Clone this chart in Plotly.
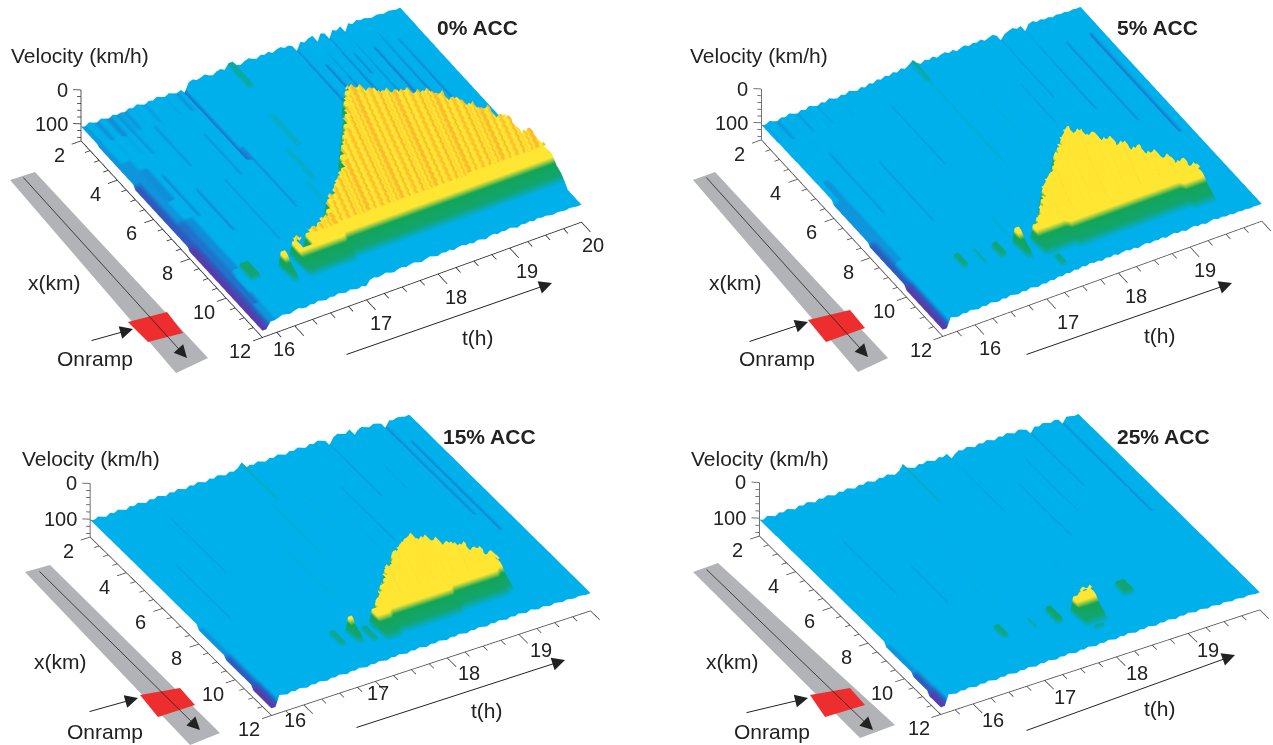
import math
import numpy as np
import plotly.graph_objects as go

W, H = 1273, 745
# Axis ticks
T_MAJOR = [16, 17, 18, 19, 20]
T_MINOR = [15.75, 16.25, 16.5, 16.75, 17.25, 17.5, 17.75, 18.25, 18.5, 18.75, 19.25, 19.5, 19.75]
X_MAJOR = [2, 4, 6, 8, 10, 12]
X_MINOR = [2.5, 3, 3.5, 4.5, 5, 5.5, 6.5, 7, 7.5, 8.5, 9, 9.5, 10.5, 11, 11.5]
V_MAJOR = [0, 100]
V_MINOR = [20, 40, 60, 80, 120, 140]
T_START, T_END = 15.55, 20.0
V_BASE = 150
PANEL_TITLES = ["0% ACC", "5% ACC", "15% ACC", "25% ACC"]
T_LABELS = [[16, 17, 18, 19, 20], [16, 17, 18, 19], [16, 17, 18, 19], [16, 17, 18, 19]]

# Speed deviation per time column, read from the jagged far edge of each surface
STREAK_0 = [8,12,4,9,13,6,10,14,7,3,9,12,5,9,2,7,11,4,8,1,6,10,3,8,12,6,14,
            -8,-12,-6,-9,-14,-7,-3,-10,-13,-6,-11,-14,-8,-4,-11,-15,-9,-5,-12,-8,
            -13,-5,-11,-14,-7,-10,-4,-12,-8,-2,-10,-13,-6,-11,-8,-14,-9,-3,-11,-7,
            -12,-5,-13,-8,-10,-6,-3,-7,-5,-2,-6,-4,-1,-3]
STREAK_1 = [6,10,3,8,12,5,9,2,7,11,4,9,1,6,10,3,8,0,5,9,2,7,-1,4,8,1,6,
            -2,3,-5,0,-7,-2,-9,-4,-12,-6,-14,-8,-11,-4,-12,-7,-13,-5,-10,-13,
            -6,-11,-3,-9,-12,-5,-10,-7,-12,-4,-9,-13,-6,-10,-3,-8,-12,-5,-9,-2,
            -7,-11,-4,-8,-3,-6,-1,-5,-2,-4,0,-3,-1,-2]
STREAK_2 = [2,6,0,4,8,1,5,-1,3,7,0,4,-2,2,6,-1,3,-3,1,5,-2,2,-4,0,4,-3,1,
            -5,-1,3,-4,0,-6,-2,2,-5,-1,-7,-3,1,-6,-2,-8,-4,0,-7,-3,
            -9,-5,-1,-8,-4,-10,-6,-2,-9,-5,-11,-7,-3,-10,-6,-12,-8,-4,-13,-7,
            -3,-9,-5,-1,-7,-4,0,-5,-2,1,-3,-1,2,0]
STREAK_3 = [4,8,1,5,9,2,6,0,4,8,1,5,-1,3,7,0,4,-2,2,6,-1,3,-3,1,5,-2,2,
            -4,0,4,-3,1,-5,-1,3,-4,0,-6,-2,2,-5,-1,-7,-3,1,-6,-2,
            -8,-4,0,-7,-3,-9,-5,-1,-8,-4,-10,-6,-2,-9,-5,-11,-7,-3,-10,-6,
            -2,-8,-4,0,-6,-3,1,-4,-1,2,-2,0,3,1]
# How strongly the streaks show at each km (2 .. 12)
STREAK_FADE = [1.0, 0.7, 0.5, 0.4, 0.35, 0.35, 0.35, 0.35, 0.4, 0.5, 0.7, 0.7]

# Congested region read off per time step: jam edge towards low x, and its front near the onramp (99 = no jam)
JAM_TOP_0 = [99,99,99,99,99,99,10.3,99,10.1,10.5,10.0,10.0,9.7,9.7,9.3,9.0,8.8,8.5,8.2,7.9,7.5,7.1,6.7,6.3,5.9,5.5,5.1,5.2,5.5,5.7,5.9,6.0,6.2,6.3,6.6,7.0,7.4,7.8,8.3,9.2,10.0]
JAM_FRONT_0 = [0,0,0,0,0,0,10.6,0,10.6,10.6,10.55,10.55,10.55,10.55,10.5,10.5,10.5,10.5,10.5,10.5,10.5,10.5,10.5,10.45,10.45,10.45,10.45,10.45,10.45,10.45,10.4,10.4,10.4,10.4,10.4,10.4,10.4,10.4,10.4,10.4,10.4]
JAM_TOP_1 = [99,99,99,99,99,99,99,99,99,99,99,99,99,10.2,99,10.3,10.1,9.8,9.5,9.05,8.8,8.6,8.3,8.0,7.7,7.4,7.15,7.4,7.7,8.1,8.5,8.85,9.2,9.6,10.0,10.3,99,99,99,99,99]
JAM_FRONT_1 = [0,0,0,0,0,0,0,0,0,0,0,0,0,10.5,0,10.6,10.6,10.6,10.6,10.65,10.65,10.65,10.65,10.7,10.7,10.7,10.7,10.7,10.75,10.75,10.75,10.75,10.75,10.8,10.8,10.8,0,0,0,0,0]
JAM_TOP_2 = [99,99,99,99,99,99,99,99,99,99,99,99,99,10.4,99,99,10.5,10.2,9.9,9.6,9.3,9.0,8.8,8.5,8.3,8.1,7.95,8.2,8.5,8.8,9.05,9.4,9.8,99,99,99,99,99,99,99,99]
JAM_FRONT_2 = [0,0,0,0,0,0,0,0,0,0,0,0,0,10.6,0,0,10.8,10.8,10.75,10.75,10.7,10.7,10.7,10.65,10.65,10.65,10.6,10.6,10.6,10.55,10.55,10.55,10.5,0,0,0,0,0,0,0,0]
JAM_TOP_3 = [99,99,99,99,99,99,99,99,99,99,99,99,99,99,99,99,99,99,99,99,10.5,10.3,10.3,99,99,99,99,99,99,99,99,99,99,99,99,99,99,99,99,99,99]
JAM_FRONT_3 = [0,0,0,0,0,0,0,0,0,0,0,0,0,0,0,0,0,0,0,0,10.7,10.7,10.7,0,0,0,0,0,0,0,0,0,0,0,0,0,0,0,0,0,0]
# Streaks inside the jam, km/h (fine columns)
JAM_WAVE = [28,28,34,35,27,35,36,29,29,36,34,26,35,31,36,28,35]
JAM_SHIFT = [0, 6, 6, 8]
JAM_FLOOR = 44
# Speeds stepping down the front shoulder from the jam to free flow (starts SHOULDER_BACK km before the front)
SHOULDER = [42, 44, 52, 62, 66, 70, 78, 88]
SHOULDER_BACK = 0.25

# Local features: first col, last col, km from, km to, speed
PATCH_0 = [(0,1,3,12,112),(0,1,5,12,122),(0,1,8,12,130),(2,3,4,12,112),(2,3,7,11,117),(4,5,4.5,6,113),(4,5,7,9.5,113),(1,1,2,3,112),
           (9,9,2,4,112),(14,14,3,5,112),(18,18,6,9,112),(11,11,6,8,114),(7,7,5,7,114),(22,22,4,6,112),(26,26,2,5.5,118),(27,27,5,8,113),
           (54,54,2,5,118),(59,59,2,5.2,122),(62,62,2,5.5,122),(66,66,2,6,118),(69,69,3,7,122),(72,72,2.5,7.5,118),(75,75,3,8,116),(57,57,3,4.5,120),(64,64,3,4,124),
           (37,38,2,3.2,78),(36,37,4.5,6,82),(33,34,6,7.5,83),(31,32,7.5,8.5,84),(29,30,9,10,82),(25,25,8,9,84),(4,6,9.8,10.6,72)]
PATCH_1 = [(0,1,6,12,112),(0,1,8,12,120),(0,1,10,12,130),(2,3,5,9,112),(8,8,4,7,112),(16,16,5,8,112),(28,28,3,6,112),(46,46,4,7,84),(50,50,7,9,112),
           (12,13,9.9,10.5,74),(17,17,10,10.7,76),(21,22,10.1,10.7,72),(31,32,11.1,11.8,76),(26,26,9,10,82),
           (38,38,2,3,76),(38,38,3,5,83),(38,38,5,7,82),(33,33,7,9,84),(60,60,2,5,112),(66,66,2,6,114),(72,72,3,7,114),(78,78,3,8,118),(56,56,4,6,112)]
PATCH_2 = [(0,1,8,12,112),(0,1,9.5,12,120),(0,1,11,12,130),(8,8,5,8,111),(16,16,3,6,111),(44,44,3,6,84),(48,48,6,8,84),(54,54,4,7,112),(60,60,2,5,112),
           (22,23,10.3,11,76),(26,26,10.4,11,74),(29,30,10.6,11.3,76),(34,35,11,11.6,74),(18,18,9,10,84),
           (38,38,2,4,80),(36,36,4,7,83),(30,30,6,9,83),(25,25,7,9,84),(66,66,2,5,112),(74,74,2,7,116),(76,76,3,8,118)]
PATCH_3 = [(0,1,9,12,112),(0,1,10.5,12,120),(0,1,11.3,12,130),(12,12,4,7,111),(20,20,6,8,111),(48,48,2,5,112),(56,56,4,7,112),(62,62,3,6,111),
           (22,23,10.1,10.7,74),(30,30,10.2,10.7,76),(35,36,10.1,10.8,70),(41,43,10.2,11.5,74),(53,55,10,10.6,72),(46,46,8,10,84),(26,26,8,9.5,84),
           (36,36,2,4,80),(30,30,4,7,84),(28,28,6,9,84),(68,68,2,5,112),(76,76,2,7,114)]

# Colour stops against velocity
CSTOP_V = [0, 27, 34, 48, 58, 72, 86, 108, 120, 136, 140]
CSTOP_C = ["#f7a82a", "#f9b62c", "#ffe633", "#ffe633", "#12a558", "#12a56e", "#00b0ea", "#00b0ea", "#2a5fc0", "#6e2aa0", "#6e2aa0"]
V_MAX = 140

STREAKS = [STREAK_0, STREAK_1, STREAK_2, STREAK_3]
JAM_TOPS = [JAM_TOP_0, JAM_TOP_1, JAM_TOP_2, JAM_TOP_3]
JAM_FRONTS = [JAM_FRONT_0, JAM_FRONT_1, JAM_FRONT_2, JAM_FRONT_3]
PATCHES = [PATCH_0, PATCH_1, PATCH_2, PATCH_3]

# Layout, in page pixels
DOMAINS = [(0, 636, 0, 372), (637, 1273, 0, 372), (0, 636, 373, 745), (637, 1273, 373, 745)]
PAN = [(21, -48), (107, -50), (39, -13), (103, -15)]
ELEV_SIN = [0.626, 0.626, 0.568, 0.568]
# Hand-placed time labels in the original: pixel nudges per tick, per panel
T_LABEL_DX = [[0, 0, 3, 2, -3], [0, 6, 3, 0], [-24, -12, 7, 7], [5, 5, 6, 5]]
T_LABEL_DY = [[-23, -23, -23, -23, -23], [-23, -23, -23, -23], [-15, -12, -15, -16], [-16, -17, -16, -17]]
T_16_BASE = [-26, 0, 0, 0]
ASPECT_K = 1.98
PX_PER_UNIT = 369.0
STRIP = [[(10,180),(35,172),(208,358),(176,373)], [(693,180),(715,172),(888,358),(858,372)],
         [(25,572),(50,565),(220,733),(190,745)], [(693,572),(718,563),(895,725),(860,738)]]
RAMP = [[(128,322),(167,312),(183,333),(148,342)], [(808,320),(850,310),(865,328),(826,342)],
        [(140,695),(180,688),(195,705),(158,717)], [(810,695),(850,688),(865,705),(825,717)]]
ROAD_ARROW = [[(22,176),(187,358)], [(705,176),(868,357)], [(38,570),(200,730)], [(705,568),(873,730)]]
RAMP_ARROW = [[(90,341),(133,329)], [(748,342),(808,322)], [(88,712),(138,698)], [(745,713),(808,698)]]
T_ARROW = [[(345,355),(552,283)], [(1025,355),(1232,283)], [(355,728),(565,660)], [(1025,731),(1235,655)]]
VEL_POS = [(80,56), (759,56), (91,458), (760,458)]
X_POS = [(54,282), (735,282), (60,661), (732,661)]
T_POS = [(478,337), (1160,335), (487,710), (1160,708)]
ON_POS = [(95,358), (777,358), (105,731), (772,731)]
TITLE_POS = [(477,28), (1157,28), (489,436), (1163,436)]

T_GRID = np.linspace(T_START, T_END, 81)
KM_GRID = np.arange(2, 12.0001, 0.125)
T_FINE = np.linspace(T_START, T_END, 161)
KM_FINE = np.arange(2, 12.0001, 0.0625)


def build(p):
    streak, top, front, patches = STREAKS[p], JAM_TOPS[p], JAM_FRONTS[p], PATCHES[p]
    z = np.zeros((len(KM_GRID), len(T_GRID)))
    for i, km in enumerate(KM_GRID):
        for j in range(len(T_GRID)):
            v = 100 + streak[j] * STREAK_FADE[int(km - 2)]
            for c0, c1, k0, k1, pv in patches:
                if c0 <= j <= c1 and k0 <= km <= k1:
                    v = pv
            idx = j // 2
            if top[idx] < 99:
                f0 = front[idx] - SHOULDER_BACK
                if top[idx] <= km < f0:
                    v = JAM_FLOOR
                elif km >= max(f0, top[idx]):
                    n = int((km - f0) / 0.125)
                    if n < len(SHOULDER):
                        v = SHOULDER[n]
            z[i, j] = v
    return z


def build_jam(p):
    top, front = JAM_TOPS[p], JAM_FRONTS[p]
    z = np.full((len(KM_FINE), len(T_FINE)), np.nan)
    for i, km in enumerate(KM_FINE):
        for j in range(len(T_FINE)):
            idx = min(j // 4, 40)
            if top[idx] < 99 and top[idx] <= km < front[idx] - SHOULDER_BACK:
                z[i, j] = JAM_WAVE[(j + i // 4) % len(JAM_WAVE)] + JAM_SHIFT[p]
    return z


def ptxt(x, y, text, size=21, bold=False):
    return dict(xref="paper", yref="paper", x=x / W, y=1 - y / H, text=f"<b>{text}</b>" if bold else text,
                showarrow=False, xanchor="center", yanchor="middle",
                font=dict(family="Liberation Sans", size=size, color="#222222"))


def parrow(a, b, w=1.0, size=2.6):
    return dict(xref="paper", yref="paper", x=b[0] / W, y=1 - b[1] / H, axref="pixel", ayref="pixel",
                ax=a[0] - b[0], ay=a[1] - b[1], text="", showarrow=True, arrowhead=2, arrowsize=size,
                arrowwidth=w, arrowcolor="#222222")


def poly(pts, color):
    path = "M " + " L ".join(f"{x / W:.4f},{1 - y / H:.4f}" for x, y in pts) + " Z"
    return dict(type="path", xref="paper", yref="paper", path=path, fillcolor=color, line=dict(width=0))


fig = go.Figure()
cscale = [[v / V_MAX, c] for v, c in zip(CSTOP_V, CSTOP_C)]
az = math.radians(240)
annos, shapes = [], []
FLAT = dict(ambient=1, diffuse=0, specular=0, fresnel=0, roughness=1)

for p in range(4):
    S = ELEV_SIN[p]
    el = math.asin(S)
    eye = np.array([math.cos(el) * math.cos(az), math.cos(el) * math.sin(az), S])
    r_vec = np.array([-math.sin(az), math.cos(az), 0.0])
    u_vec = np.array([-S * math.cos(az), -S * math.sin(az), math.cos(el)])
    sid = "scene" if p == 0 else f"scene{p + 1}"
    fig.add_trace(go.Surface(x=T_GRID, y=KM_GRID, z=build(p), colorscale=cscale, cmin=0, cmax=V_MAX, showscale=False,
                             hoverinfo="skip", scene=sid, lighting=FLAT))
    fig.add_trace(go.Surface(x=T_FINE, y=KM_FINE, z=build_jam(p), colorscale=cscale, cmin=0, cmax=V_MAX, showscale=False,
                             hoverinfo="skip", scene=sid, lighting=FLAT))
    lx, ly, lz = [], [], []

    def seg(a, b):
        lx.extend([a[0], b[0], None]); ly.extend([a[1], b[1], None]); lz.extend([a[2], b[2], None])

    seg((T_START, 2, V_BASE), (T_START, 12, V_BASE))
    seg((T_START, 12, V_BASE), (T_END, 12, V_BASE))
    seg((T_START, 2, V_BASE), (T_START, 2, 0))
    for k in X_MAJOR:
        seg((T_START, k, V_BASE), (T_START - 0.13, k, V_BASE))
    for k in X_MINOR:
        seg((T_START, k, V_BASE), (T_START - 0.07, k, V_BASE))
    for t in T_MAJOR:
        seg((t, 12, V_BASE), (t, 12.5, V_BASE))
    for t in T_MINOR:
        seg((t, 12, V_BASE), (t, 12.25, V_BASE))
    for v in V_MAJOR:
        seg((T_START, 2, v), (T_START - 0.08, 1.88, v))
    for v in V_MINOR:
        seg((T_START, 2, v), (T_START - 0.04, 1.94, v))
    fig.add_trace(go.Scatter3d(x=lx, y=ly, z=lz, mode="lines", scene=sid, hoverinfo="skip", showlegend=False,
                               connectgaps=False, line=dict(color="#222222" if p == 0 else "#444444", width=1.5)))

    scene_annos = []
    font = dict(family="Liberation Sans", size=20, color="#222222")
    for k in X_MAJOR:
        scene_annos.append(dict(x=T_START, y=k, z=V_BASE, text=str(k), showarrow=False, xshift=-22, yshift=-14, font=font))
    for n, t in enumerate(T_LABELS[p]):
        extra = T_16_BASE[p] if t == 16 else 0
        scene_annos.append(dict(x=t, y=12, z=V_BASE, text=str(t), showarrow=False, xshift=15 + extra + T_LABEL_DX[p][n],
                                yshift=T_LABEL_DY[p][n], font=font))
    for v in V_MAJOR:
        scene_annos.append(dict(x=T_START, y=2, z=v, text=str(v), showarrow=False, xanchor="right", xshift=-11, yshift=0, font=font))

    dx0, dx1, dy0, dy1 = DOMAINS[p]
    pan = PAN[p]
    center = -(pan[0] * r_vec + (-pan[1]) * u_vec) / PX_PER_UNIT
    fig.update_layout({sid: dict(
        domain=dict(x=[dx0 / W, dx1 / W], y=[1 - dy1 / H, 1 - dy0 / H]),
        aspectmode="manual", aspectratio=dict(x=1.124 * ASPECT_K, y=1.113 * ASPECT_K, z=0.183 * ASPECT_K),
        xaxis=dict(range=[15.2, 20.2], visible=False),
        yaxis=dict(range=[12.8, 1.5], visible=False),
        zaxis=dict(range=[155, 0], visible=False),
        bgcolor="white",
        camera=dict(projection=dict(type="orthographic"),
                    eye=dict(x=eye[0] * 2 + center[0], y=eye[1] * 2 + center[1], z=eye[2] * 2 + center[2]),
                    center=dict(x=center[0], y=center[1], z=center[2]), up=dict(x=0, y=0, z=1)),
        annotations=scene_annos)})

    shapes.append(poly(STRIP[p], "#b1b3b6"))
    shapes.append(poly(RAMP[p], "#ee2e2e"))
    annos.append(parrow(*ROAD_ARROW[p], w=0.8, size=3.2))
    annos.append(parrow(*RAMP_ARROW[p]))
    annos.append(parrow(*T_ARROW[p]))
    annos.append(ptxt(*VEL_POS[p], "Velocity (km/h)"))
    annos.append(ptxt(*X_POS[p], "x(km)"))
    annos.append(ptxt(*T_POS[p], "t(h)"))
    annos.append(ptxt(*ON_POS[p], "Onramp"))
    annos.append(ptxt(*TITLE_POS[p], PANEL_TITLES[p], size=21, bold=True))

fig.update_layout(width=W, height=H, autosize=False, margin=dict(l=0, r=0, t=0, b=0), paper_bgcolor="white",
                  showlegend=False, annotations=annos, shapes=shapes)
fig.write_html("out.html", config=dict(displayModeBar=False), post_script="document.body.style.margin='0';")
